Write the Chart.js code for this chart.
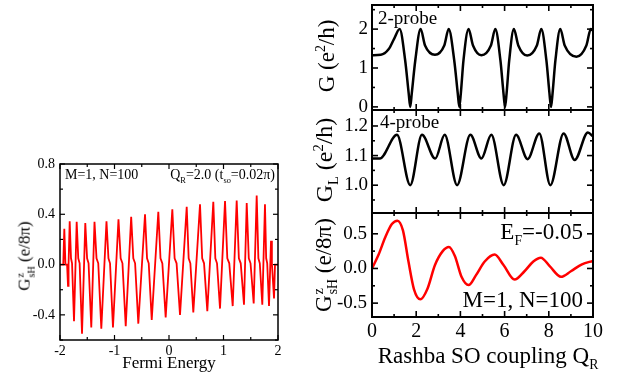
<!DOCTYPE html>
<html>
<head>
<meta charset="utf-8">
<script src="https://cdn.jsdelivr.net/npm/chart.js@4.4.1/dist/chart.umd.min.js"></script>
<style>
  body { margin: 0; background: #fff; }
  #wrap { position: relative; width: 618px; height: 379px; background: #fff; overflow: hidden; }
  canvas { position: absolute; }
  .lbl { position: absolute; font-family: 'Liberation Serif', serif; color: #000; white-space: nowrap; line-height: 1; }
  .rot { transform: translate(-50%, -50%) rotate(-90deg); }
  .ctr { transform: translateX(-50%); }
  .lbl sub, .lbl sup { font-size: 0.6em; line-height: 0; }
  .ss { display: inline-block; font-size: 0.6em; line-height: 1; vertical-align: -0.45em; margin-left: 1px; }
  .ss span { display: block; }
</style>
</head>
<body>
<div id="wrap">
  <canvas id="cLeft" width="300" height="229" style="left:0;top:150px"></canvas>
  <canvas id="cG" width="318" height="130" style="left:300px;top:0"></canvas>
  <canvas id="cGL" width="318" height="130" style="left:300px;top:100px"></canvas>
  <canvas id="cSH" width="318" height="179" style="left:300px;top:200px"></canvas>

  <div class="lbl rot" style="left:26px;top:256px;font-size:17px">G<span class="ss"><span>z</span><span>sH</span></span> (e/8π)</div>
  <div class="lbl ctr" style="left:169px;top:354px;font-size:17px">Fermi Energy</div>
  <div class="lbl" style="left:65px;top:168px;font-size:14px">M=1, N=100</div>
  <div class="lbl" style="right:343px;top:168px;font-size:14px">Q<sub>R</sub>=2.0 (t<sub>so</sub>=0.02π)</div>

  <div class="lbl rot" style="left:326px;top:56px;font-size:23px">G (e<sup>2</sup>/h)</div>
  <div class="lbl rot" style="left:324px;top:160px;font-size:24px">G<sub>L</sub> (e<sup>2</sup>/h)</div>
  <div class="lbl rot" style="left:326px;top:265px;font-size:23px">G<span class="ss"><span>z</span><span>sH</span></span> (e/8π)</div>
  <div class="lbl" style="left:378px;top:8px;font-size:19px">2-probe</div>
  <div class="lbl" style="left:380px;top:112px;font-size:19px">4-probe</div>
  <div class="lbl" style="right:35px;top:220px;font-size:23px">E<sub>F</sub>=-0.05</div>
  <div class="lbl" style="right:35px;top:288px;font-size:23px">M=1, N=100</div>
  <div class="lbl ctr" style="left:488px;top:344px;font-size:23px">Rashba SO coupling Q<sub>R</sub></div>
</div>

<script>
// --- Pannello sinistro: G^z_sH in funzione dell'energia di Fermi ---
const fermiEnergy = [-2.0, -1.94, -1.921, -1.90, -1.87, -1.853, -1.843, -1.822,
  -1.798, -1.779, -1.743, -1.694, -1.665, -1.640, -1.596, -1.536,
  -1.503, -1.476, -1.426, -1.367, -1.330, -1.298, -1.242, -1.147,
  -1.111, -1.082, -1.028, -0.927, -0.887, -0.854, -0.794, -0.694,
  -0.655, -0.622, -0.563, -0.440, -0.403, -0.372, -0.317, -0.196,
  -0.156, -0.122, -0.061, 0.061, 0.103, 0.139, 0.202, 0.325,
  0.361, 0.392, 0.446, 0.569, 0.609, 0.643, 0.703, 0.813,
  0.850, 0.881, 0.936, 1.028, 1.070, 1.106, 1.169, 1.242,
  1.282, 1.316, 1.376, 1.426, 1.464, 1.496, 1.554, 1.609,
  1.640, 1.666, 1.712, 1.761, 1.783, 1.802, 1.835, 1.872,
  1.888, 1.927, 1.945, 2.0];
const spinHallVsE = [0, 0, 0.285, 0, 0, -0.17, 0, 0.345,
  0.05, 0.01, -0.45, 0.34, 0.05, 0.01, -0.55, 0.33,
  0.05, 0.01, -0.50, 0.34, 0.05, 0.01, -0.51, 0.345,
  0.05, 0.01, -0.50, 0.36, 0.05, 0.01, -0.49, 0.38,
  0.05, 0.01, -0.47, 0.40, 0.05, 0.01, -0.44, 0.42,
  0.05, 0.01, -0.42, 0.44, 0.05, 0.01, -0.40, 0.46,
  0.05, 0.01, -0.38, 0.48, 0.05, 0.01, -0.37, 0.50,
  0.05, 0.01, -0.35, 0.505, 0.05, 0.01, -0.33, 0.51,
  0.05, 0.01, -0.32, 0.49, 0.05, 0.01, -0.31, 0.55,
  0.05, 0.01, -0.32, 0.48, 0.05, 0.01, -0.33, 0.19,
  0.01, -0.27, 0, 0];

const leftXTicks = [-2, -1, 0, 1, 2];
const leftXMinor = [-1.5, -0.5, 0.5, 1.5];
const leftYTicks = [-0.4, 0, 0.4, 0.8];
const leftYMinor = [-0.6, -0.2, 0.2, 0.6];

// --- Pannelli destri: funzione dell'accoppiamento Rashba Q_R ---
const qrG = [0, 0.4, 0.75, 1.0, 1.25, 1.5, 1.66, 1.73, 1.80, 1.96, 2.2,
  2.4, 2.85, 3.27, 3.47, 3.72, 3.88, 3.95, 4.02, 4.14, 4.37,
  4.57, 4.95, 5.38, 5.58, 5.81, 5.95, 6.02, 6.09, 6.21, 6.42,
  6.62, 7.02, 7.46, 7.66, 7.89, 8.03, 8.1, 8.17, 8.3, 8.52,
  8.72, 9.25, 9.7, 9.9, 10];
const conductanceG = [1.33, 1.34, 1.48, 1.75, 2.0, 1.2, 0.35, 0, 0.35, 1.2, 2.0,
  1.58, 1.34, 1.58, 2.0, 1.2, 0.35, 0, 0.35, 1.2, 2.0,
  1.58, 1.33, 1.58, 2.0, 1.2, 0.35, 0, 0.35, 1.2, 2.0,
  1.58, 1.32, 1.58, 2.0, 1.2, 0.35, 0, 0.35, 1.2, 2.0,
  1.58, 1.29, 1.58, 2.0, 1.96];

const qrGL = [0, 0.35, 1.13, 1.73, 2.26, 2.86, 3.29, 3.85, 4.45, 4.95,
  5.4, 5.96, 6.52, 7.04, 7.57, 8.07, 8.67, 9.17, 9.77, 10];
const conductanceGL = [1.09, 1.09, 1.17, 1.0, 1.17, 1.09, 1.17, 1.0, 1.17, 1.09,
  1.17, 1.0, 1.17, 1.088, 1.175, 1.0, 1.175, 1.085, 1.178, 1.165];

const qrSH = [0, 0.3, 0.6, 0.9, 1.15, 1.4, 1.65, 1.9, 2.19, 2.5, 2.85, 3.2, 3.48,
  3.75, 4.05, 4.37, 4.7, 5.1, 5.55, 5.95, 6.45, 6.9, 7.3, 7.64, 8.05,
  8.55, 9.0, 9.5, 10];
const spinHallVsQ = [0, 0.2, 0.45, 0.64, 0.69, 0.55, 0.1, -0.3, -0.445, -0.3, 0.05, 0.25, 0.31,
  0.18, -0.12, -0.24, -0.1, 0.1, 0.2, 0.05, -0.16, -0.04, 0.1, 0.155, 0.03,
  -0.12, -0.04, 0.06, 0.11];

const qrTicks = [0, 2, 4, 6, 8, 10];
const qrMinor = [1, 3, 5, 7, 9];
const gTicks = [0, 1, 2];
const gMinor = [0.5, 1.5, 2.5];
const glTicks = [1.0, 1.1, 1.2];
const glMinor = [0.95, 1.05, 1.15];
const shTicks = [-0.5, 0, 0.5];
const shMinor = [-0.25, 0.25];

const FONT = "'Liberation Serif', serif";

/**
 * Cornice nera e tacche rivolte verso l'interno su tutti e quattro i lati
 */
const framePlugin = {
    id: 'frame',
    afterDatasetsDraw(chart, args, opts) {
        const ctx = chart.ctx;
        const a = chart.chartArea;
        const sx = chart.scales.x;
        const sy = chart.scales.y;
        ctx.save();
        ctx.strokeStyle = '#000';
        ctx.lineWidth = opts.width;
        ctx.strokeRect(a.left, a.top, a.right - a.left, a.bottom - a.top);
        ctx.lineWidth = opts.tickWidth;
        const line = (x1, y1, x2, y2) => {
            ctx.beginPath();
            ctx.moveTo(x1, y1);
            ctx.lineTo(x2, y2);
            ctx.stroke();
        };
        const xMarks = (list, len) => list.forEach(v => {
            const p = sx.getPixelForValue(v);
            line(p, a.bottom, p, a.bottom - len);
            line(p, a.top, p, a.top + len);
        });
        const yMarks = (list, len) => list.forEach(v => {
            const p = sy.getPixelForValue(v);
            line(a.left, p, a.left + len, p);
            line(a.right, p, a.right - len, p);
        });
        xMarks(opts.xMajor, opts.major);
        xMarks(opts.xMinor, opts.minor);
        yMarks(opts.yMajor, opts.major);
        yMarks(opts.yMinor, opts.minor);
        ctx.restore();
    }
};
Chart.register(framePlugin);

// Azzera i margini automatici che Chart.js riserva alle etichette
function noPadding(s) {
    s.paddingTop = 0;
    s.paddingBottom = 0;
    s.paddingLeft = 0;
    s.paddingRight = 0;
}

/**
 * Costruisce le opzioni comuni di un pannello
 */
function panelOptions(cfg) {
    return {
        responsive: false,
        animation: false,
        events: [],
        layout: { padding: cfg.padding, autoPadding: false },
        plugins: {
            legend: { display: false },
            tooltip: { enabled: false },
            frame: {
                width: cfg.frameWidth,
                tickWidth: cfg.tickWidth,
                major: cfg.major,
                minor: cfg.minor,
                xMajor: cfg.xTicks,
                xMinor: cfg.xMinor,
                yMajor: cfg.yTicks,
                yMinor: cfg.yMinor
            }
        },
        scales: {
            x: {
                type: 'linear',
                min: cfg.xMin,
                max: cfg.xMax,
                display: cfg.showX,
                grid: { display: false, drawTicks: false },
                border: { display: false },
                ticks: {
                    color: '#000',
                    font: { family: FONT, size: cfg.xFont },
                    padding: cfg.xPad,
                    maxRotation: 0,
                    autoSkip: false,
                    callback: v => String(v)
                },
                afterBuildTicks: axis => { axis.ticks = cfg.xTicks.map(v => ({ value: v })); },
                afterFit: s => { s.height = cfg.xHeight; noPadding(s); }
            },
            y: {
                type: 'linear',
                min: cfg.yMin,
                max: cfg.yMax,
                grid: { display: false, drawTicks: false },
                border: { display: false },
                ticks: {
                    color: '#000',
                    font: { family: FONT, size: cfg.yFont },
                    padding: cfg.yPad,
                    autoSkip: false,
                    callback: cfg.yFormat
                },
                afterBuildTicks: axis => { axis.ticks = cfg.yTicks.map(v => ({ value: v })); },
                afterFit: s => { s.width = cfg.yWidth; noPadding(s); }
            }
        }
    };
}

function makeLine(id, xs, ys, color, width, smooth, opts) {
    new Chart(document.getElementById(id).getContext('2d'), {
        type: 'line',
        data: {
            datasets: [{
                data: xs.map((x, i) => ({ x: x, y: ys[i] })),
                borderColor: color,
                borderWidth: width,
                pointRadius: 0,
                fill: false,
                tension: 0,
                cubicInterpolationMode: smooth ? 'monotone' : 'default'
            }]
        },
        options: opts
    });
}

// Pannello sinistro
makeLine('cLeft', fermiEnergy, spinHallVsE, '#ff0000', 1.8, false, panelOptions({
    padding: { left: 0, right: 22, top: 14, bottom: 0 },
    xMin: -2, xMax: 2, yMin: -0.6, yMax: 0.8, showX: true,
    xTicks: leftXTicks, xMinor: leftXMinor, yTicks: leftYTicks, yMinor: leftYMinor,
    xFont: 14, yFont: 14, xPad: 3, yPad: 5, xHeight: 39, yWidth: 60,
    yFormat: v => v.toFixed(1),
    frameWidth: 1.5, tickWidth: 1.2, major: 5, minor: 3
}));

// Pannello G a 2 terminali
makeLine('cG', qrG, conductanceG, '#000', 2.5, true, panelOptions({
    padding: { left: 0, right: 25, top: 5, bottom: 20 },
    xMin: 0, xMax: 10, yMin: -0.08, yMax: 2.62, showX: false,
    xTicks: qrTicks, xMinor: qrMinor, yTicks: gTicks, yMinor: gMinor,
    xFont: 20, yFont: 19, xPad: 3, yPad: 4, xHeight: 0, yWidth: 72,
    yFormat: v => String(v),
    frameWidth: 2, tickWidth: 1.6, major: 6, minor: 3
}));

// Pannello G_L a 4 terminali
makeLine('cGL', qrGL, conductanceGL, '#000', 2.5, true, panelOptions({
    padding: { left: 0, right: 25, top: 10, bottom: 17 },
    xMin: 0, xMax: 10, yMin: 0.906, yMax: 1.254, showX: false,
    xTicks: qrTicks, xMinor: qrMinor, yTicks: glTicks, yMinor: glMinor,
    xFont: 20, yFont: 19, xPad: 3, yPad: 4, xHeight: 0, yWidth: 72,
    yFormat: v => v.toFixed(1),
    frameWidth: 2, tickWidth: 1.6, major: 6, minor: 3
}));

// Pannello G^z_sH in funzione di Q_R
makeLine('cSH', qrSH, spinHallVsQ, '#ff0000', 2.5, true, panelOptions({
    padding: { left: 0, right: 25, top: 13, bottom: 0 },
    xMin: 0, xMax: 10, yMin: -0.7, yMax: 0.8, showX: true,
    xTicks: qrTicks, xMinor: qrMinor, yTicks: shTicks, yMinor: shMinor,
    xFont: 20, yFont: 19, xPad: 3, yPad: 5, xHeight: 62, yWidth: 72,
    yFormat: v => v.toFixed(1),
    frameWidth: 2, tickWidth: 1.6, major: 6, minor: 3
}));
</script>
</body>
</html>
